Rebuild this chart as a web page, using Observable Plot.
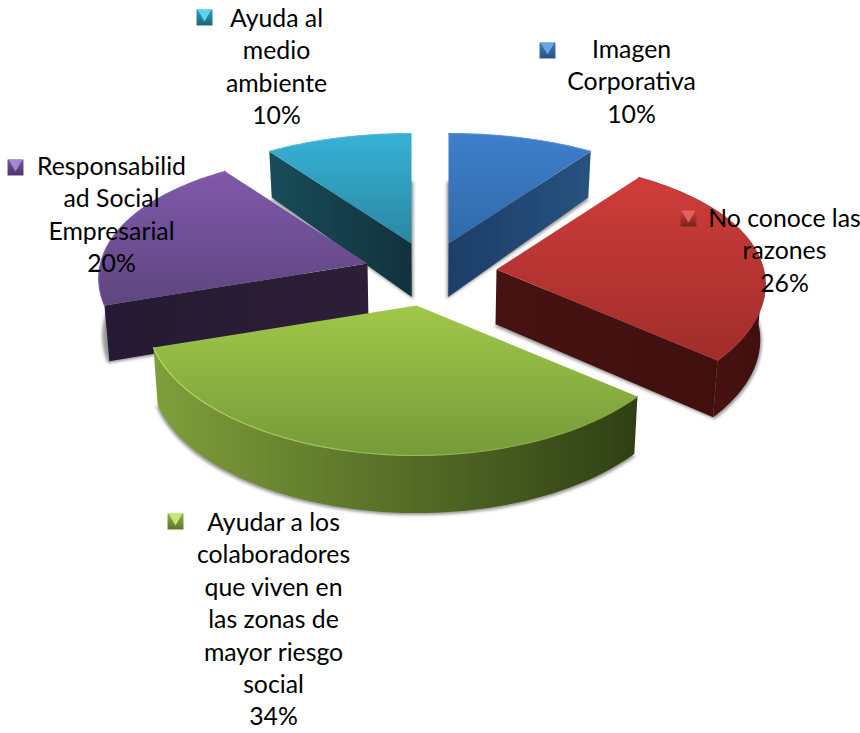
<!DOCTYPE html>
<html><head><meta charset="utf-8">
<script src="https://cdn.jsdelivr.net/npm/d3@7"></script>
<script src="https://cdn.jsdelivr.net/npm/@observablehq/plot@0.6"></script>
<style>html,body{margin:0;padding:0;background:#fff}svg{display:block}</style>
</head><body><div id="chart"></div>
<script>
// Data
const categories = ["Imagen Corporativa","No conoce las razones","Ayudar a los colaboradores que viven en las zonas de mayor riesgo social","Responsabilidad Social Empresarial","Ayuda al medio ambiente"];
const shares = [10,26,34,20,10];
const labelTexts = [
  "Imagen\nCorporativa\n10%",
  "No conoce las\nrazones\n26%",
  "Ayudar a los\ncolaboradores\nque viven en\nlas zonas de\nmayor riesgo\nsocial\n34%",
  "Responsabilid\nad Social\nEmpresarial\n20%",
  "Ayuda al\nmedio\nambiente\n10%"
];
// Layout and styling
const apexX = [448,496,416,367,411];
const apexY = [243,269,305,263,243];
const labelX = [631,784,273,111,276];
const labelY = [50,219,523,167,19];
const keyX = [547,688,175,15,204];
const keyY = [50,218,521,167,17];
const topStops = [["#3f7fcb","#2f69a8"],["#cf3d3a","#a02d2b"],["#a0c848","#769a3a"],["#8059aa","#5e4580"],["#36b2d6","#2b87a2"]];
const wallStops = [["#1d3e68","#27527f"],["#461311","#400f0e"],["#7f9f3b","#2f3f14"],["#251a33","#2e1e37"],["#184c59","#12323c"]];
const keyStops = [["#3f7fcb","#26507f"],["#cf3d3a","#7a2220"],["#8fb441","#5b7628"],["#7a55a3","#4b3669"],["#2f9cbc","#1f6478"]];
const keyLight = ["#6fa4e2","#e4625e","#c6e47a","#a885d6","#5ed4ec"];
const rimStops = [["#4f8cd6","#4f8cd6"],["#b53735","#a83331"],["#c0de68","#7f9f3a"],["#7a58a2","#7a58a2"],["#4fb9d9","#4fb9d9"]];

const pie = d3.pie().sort(null).value(d => d)(shares);
const outerPoint = (i, th) => {
  const t = (1 - Math.cos(th)) / 2;
  const rx = 236 + 62 * t, ry = 110 + 40 * t;
  return [apexX[i] + rx * Math.sin(th), apexY[i] - ry * Math.cos(th)];
};
const drop = ([x, y]) => {
  const d = 46 + 12 * (1 - Math.exp(-Math.max(0, y - 154) / 90));
  return [x - (x - 430) * 0.015, y + d];
};
const arcPts = (i, a, b) => d3.range(0, 61).map(k => outerPoint(i, a + (b - a) * k / 60));
const poly = pts => pts.map(([x, y]) => ({x, y}));
const line = (pts, opts) => Plot.line(poly(pts), {x: "x", y: "y", curve: "linear", ...opts});

const marks = [];
// gradient definitions
marks.push(() => {
  const ns = "http://www.w3.org/2000/svg";
  const defs = document.createElementNS(ns, "defs");
  const grad = (id, [c0, c1], horiz) => {
    const g = document.createElementNS(ns, "linearGradient");
    g.setAttribute("id", id);
    g.setAttribute("x1", 0); g.setAttribute("y1", 0);
    g.setAttribute("x2", horiz ? 1 : 0); g.setAttribute("y2", horiz ? 0 : 1);
    [[0, c0], [1, c1]].forEach(([o, c]) => {
      const s = document.createElementNS(ns, "stop");
      s.setAttribute("offset", o); s.setAttribute("stop-color", c);
      g.appendChild(s);
    });
    defs.appendChild(g);
  };
  shares.forEach((_, i) => {
    grad("top" + i, topStops[i], false);
    grad("wall" + i, wallStops[i], true);
    grad("key" + i, keyStops[i], false);
    grad("rim" + i, rimStops[i], true);
  });
  return defs;
});

// painter's order: back slices first
for (const i of [4, 0, 3, 1, 2]) {
  const {startAngle: a, endAngle: b} = pie[i];
  const apex = [apexX[i], apexY[i]];
  const edge = arcPts(i, a, b);
  const topShape = [apex, ...edge];
  // soft ground shadow
  const base = topShape.map(p => drop(p)).map(([x, y]) => [x + (x < apexX[i] ? -1.5 : 1.5), y + 2]);
  marks.push(line(base, {fill: "#999", stroke: "none", imageFilter: "blur(1.4px)"}));
  // outer wall
  const fa = Math.max(a, Math.PI / 2), fb = Math.min(b, 1.4 * Math.PI);
  if (fb > fa) {
    const arc = arcPts(i, fa, fb);
    marks.push(line([...arc, ...arc.map(drop).reverse()], {fill: `url(#wall${i})`, stroke: "none"}));
  }
  // cut walls
  if (a > Math.PI) {
    const e = outerPoint(i, a);
    marks.push(line([apex, e, drop(e), drop(apex)], {fill: `url(#wall${i})`, stroke: "none"}));
  }
  if (b < Math.PI) {
    const e = outerPoint(i, b);
    marks.push(line([apex, e, drop(e), drop(apex)], {fill: `url(#wall${i})`, stroke: "none"}));
  }
  // top surface and rim
  marks.push(line(topShape, {fill: `url(#top${i})`, stroke: "none"}));
  marks.push(line(edge, {stroke: `url(#rim${i})`, strokeWidth: 1.2, strokeOpacity: 0.9}));
}

const labels = labelTexts.map((text, i) => ({text, x: labelX[i], y: labelY[i], kx: keyX[i], ky: keyY[i], i}));
marks.push(Plot.text(labels, {
  x: "x", y: "y", text: "text", lineAnchor: "top", dy: -16,
  textAnchor: "middle", fontFamily: "Lato", fontSize: 24.8, lineHeight: 1.31, fill: "#000"
}));
labels.forEach(d => {
  marks.push(Plot.dot([d], {x: "kx", y: "ky", symbol: "square", r: 9, fill: `url(#key${d.i})`, stroke: "none"}));
  marks.push(Plot.dot([d], {x: "kx", y: "ky", symbol: "triangle", r: 5.2, rotate: 180, dy: -4, fill: keyLight[d.i], stroke: "none"}));
});

const chart = Plot.plot({
  width: 860, height: 733, margin: 0,
  x: {domain: [0, 860], range: [0, 860], axis: null},
  y: {domain: [0, 733], range: [0, 733], axis: null},
  style: {background: "#fff"},
  marks
});
document.getElementById("chart").appendChild(chart);
</script></body></html>
